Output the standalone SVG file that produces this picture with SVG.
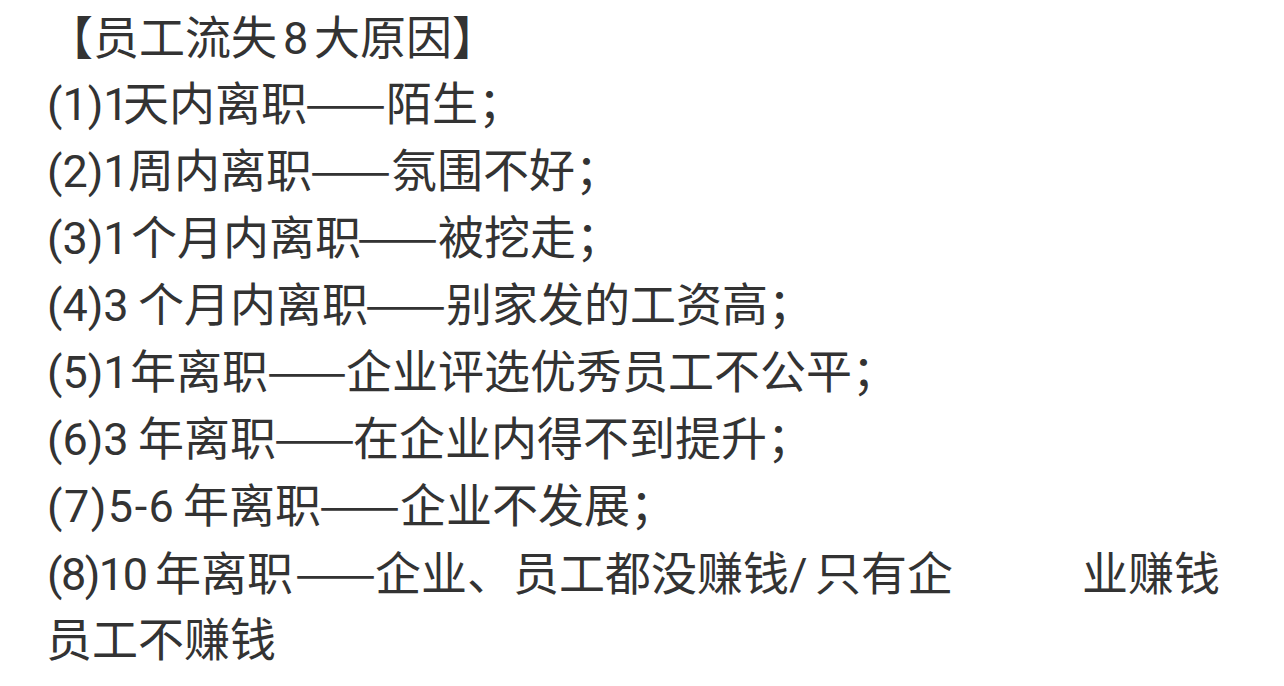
<svg xmlns="http://www.w3.org/2000/svg" width="1284" height="686" viewBox="0 0 1284 686">
<style>
text{font-family:"Noto Sans CJK SC","Noto Sans",sans-serif;font-size:46px;fill:#333;}
.l{font-family:Roboto,"Noto Sans",sans-serif;font-size:45px;}
.d{font-family:"Noto Sans CJK SC",sans-serif;}
</style>
<rect width="1284" height="686" fill="#fff"/>
<g id="title"><text y="54"><tspan x="47">【员工流失</tspan><tspan class="l" x="283">8</tspan><tspan x="314">大原因】</tspan></text></g>
<g id="line1"><text y="120"><tspan class="l" x="47">(1)1</tspan><tspan x="123">天内离职</tspan><tspan class="d" x="305" textLength="81" lengthAdjust="spacingAndGlyphs">——</tspan><tspan x="386">陌生；</tspan></text></g>
<g id="line2"><text y="187"><tspan class="l" x="47">(2)1</tspan><tspan x="128">周内离职</tspan><tspan class="d" x="310" textLength="81" lengthAdjust="spacingAndGlyphs">——</tspan><tspan x="391">氛围不好；</tspan></text></g>
<g id="line3"><text y="254"><tspan class="l" x="47">(3)1</tspan><tspan x="131">个月内离职</tspan><tspan class="d" x="357" textLength="81" lengthAdjust="spacingAndGlyphs">——</tspan><tspan x="438">被挖走；</tspan></text></g>
<g id="line4"><text y="321"><tspan class="l" x="47">(4)3</tspan><tspan x="138">个月内离职</tspan><tspan class="d" x="365" textLength="81" lengthAdjust="spacingAndGlyphs">——</tspan><tspan x="446">别家发的工资高；</tspan></text></g>
<g id="line5"><text y="388"><tspan class="l" x="47">(5)1</tspan><tspan x="130">年离职</tspan><tspan class="d" x="267" textLength="80" lengthAdjust="spacingAndGlyphs">——</tspan><tspan x="346">企业评选优秀员工不公平；</tspan></text></g>
<g id="line6"><text y="455"><tspan class="l" x="47">(6)3</tspan><tspan x="138">年离职</tspan><tspan class="d" x="274" textLength="81" lengthAdjust="spacingAndGlyphs">——</tspan><tspan x="353">在企业内得不到提升；</tspan></text></g>
<g id="line7"><text y="522"><tspan class="l" x="47" letter-spacing="1.5">(7)5-6</tspan><tspan x="183">年离职</tspan><tspan class="d" x="319" textLength="81" lengthAdjust="spacingAndGlyphs">——</tspan><tspan x="400">企业不发展；</tspan></text></g>
<g id="line8"><text y="590"><tspan class="l" x="47" letter-spacing="-1.5">(8)10</tspan><tspan x="155">年离职</tspan><tspan class="d" x="295" textLength="81" lengthAdjust="spacingAndGlyphs">——</tspan><tspan x="375">企业、员工都没赚钱</tspan><tspan class="l" x="789">/</tspan><tspan x="815">只有企</tspan><tspan x="1082">业赚钱</tspan></text></g>
<g id="line9"><text y="656"><tspan x="46">员工不赚钱</tspan></text></g>
</svg>
